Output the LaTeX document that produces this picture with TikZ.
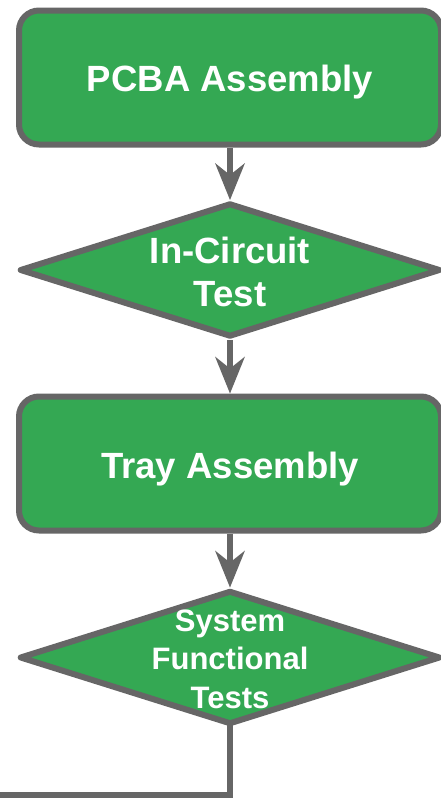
\documentclass[tikz,border=0pt]{standalone}
\usepackage{fontspec}
\setmainfont{Liberation Sans}
\usetikzlibrary{shapes.geometric,arrows.meta}
\definecolor{stepgreen}{HTML}{34A853}
\definecolor{edgegray}{HTML}{666666}
\begin{document}
\begin{tikzpicture}[x=1pt,y=-1pt,
  process/.style={draw=edgegray, fill=stepgreen, line width=6pt,
    rounded corners=20pt, minimum width=422pt, minimum height=134pt,
    inner sep=0pt},
  decision/.style={diamond, draw=edgegray, fill=stepgreen, line width=6pt,
    line join=round, minimum width=421pt, minimum height=134pt,
    inner sep=0pt},
  bigtext/.style={text=white, inner sep=0pt, align=center,
    font=\bfseries\fontsize{36.5}{43}\selectfont},
  smalltext/.style={text=white, inner sep=0pt, align=center,
    font=\bfseries\fontsize{31}{38.5}\selectfont},
  link/.style={draw=edgegray, line width=6pt},
  flow/.style={link, -{Stealth[length=37pt, width=30pt, inset=12pt, line width=0pt]}}
]
\useasboundingbox (0,0) rectangle (440,804);

% process boxes and decision diamonds
\node[process]  (pcba) at (230,77.5)  {};
\node[decision] (ict)  at (230,270)   {};
\node[process]  (tray) at (230,463.5) {};
\node[decision] (sft)  at (230,657.5) {};

% their captions
\node[bigtext, anchor=base] (pcbatext) at (230,91.5) {PCBA Assembly};
\node[bigtext] (icttext) at (230,271.5) {In-Circuit\\Test};
\node[bigtext, anchor=base] (traytext) at (230,478) {Tray Assembly};
\node[smalltext] (sfttext) at (230,659) {System\\Functional\\Tests};

% connectors
\draw[flow] (pcba) -- (ict);
\draw[flow] (ict) -- (tray);
\draw[flow] (tray) -- (sft);
\coordinate (exit) at (-10,795);
\draw[link] ([yshift=5pt]sft.south) |- (exit);
\end{tikzpicture}
\end{document}
